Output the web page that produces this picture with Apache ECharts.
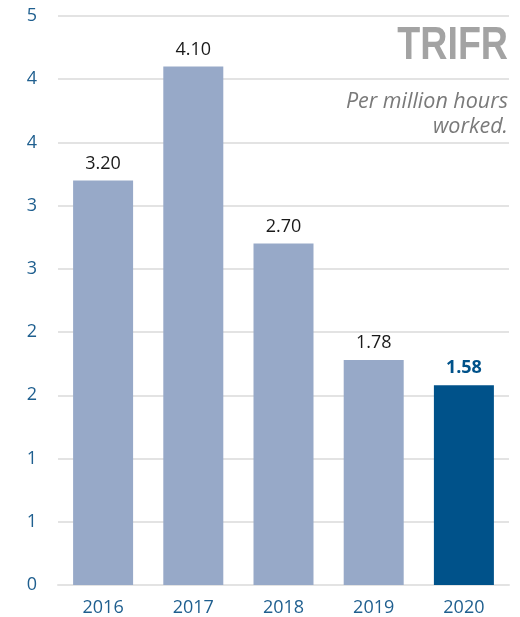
<!DOCTYPE html>
<html>
<head>
<meta charset="utf-8">
<script src="https://cdn.jsdelivr.net/npm/echarts@6/dist/echarts.min.js"></script>
<style>
html,body{margin:0;padding:0;background:#fff;}
#chart{width:520px;height:617px;}
</style>
</head>
<body>
<div id="chart"></div>
<script>
var categories = ['2016', '2017', '2018', '2019', '2020'];
var values = [3.20, 4.10, 2.70, 1.78, 1.58];
var valueLabels = ['3.20', '4.10', '2.70', '1.78', '1.58'];
var highlightIndex = 4;
var yTickValues = [0, 0.5, 1, 1.5, 2, 2.5, 3, 3.5, 4, 4.5];
var yTickLabels = ['0', '1', '1', '2', '2', '3', '3', '4', '4', '5'];
var titleText = 'TRIFR';
var subtitleText = 'Per million hours\nworked.';

var FONT = '"Open Sans", "Noto Sans", sans-serif';
var LIGHT = '#97a9c8';
var DARK = '#00528a';
var AXIS_BLUE = '#1f5f8f';

var chart = echarts.init(document.getElementById('chart'), null, {renderer: 'canvas'});

var barData = values.map(function (v, i) {
  var hi = i === highlightIndex;
  return {
    value: v,
    itemStyle: {color: hi ? DARK : LIGHT},
    label: {
      color: hi ? DARK : '#1a1a1a',
      fontWeight: hi ? 'bold' : 'normal'
    }
  };
});

chart.setOption({
  animation: false,
  graphic: [
    {
      type: 'text',
      x: 508,
      y: 46,
      scaleX: 0.8,
      style: {
        text: titleText,
        fontFamily: '"Liberation Sans", Arial, sans-serif',
        fontSize: 47,
        fontWeight: 'bold',
        fill: '#a3a3a3',
        textAlign: 'right',
        textVerticalAlign: 'middle'
      }
    },
    {
      type: 'text',
      x: 508,
      y: 114,
      style: {
        text: subtitleText,
        fontFamily: FONT,
        fontSize: 21.5,
        fontStyle: 'italic',
        fill: '#7a7a7a',
        lineHeight: 25,
        textAlign: 'right',
        textVerticalAlign: 'middle'
      }
    }
  ],
  grid: {left: 58, right: 11, top: 16, bottom: 31, containLabel: false},
  xAxis: {
    type: 'category',
    data: categories,
    axisLine: {show: true, lineStyle: {color: '#e3e3e3', width: 2}},
    axisTick: {show: false},
    axisLabel: {color: AXIS_BLUE, fontFamily: FONT, fontSize: 18, margin: 14}
  },
  yAxis: {
    type: 'value',
    min: 0,
    max: 4.5,
    interval: 0.5,
    axisLine: {show: false},
    axisTick: {show: false},
    splitLine: {lineStyle: {color: '#e3e3e3', width: 2}},
    axisLabel: {
      color: AXIS_BLUE, fontFamily: FONT, fontSize: 18, margin: 21,
      formatter: function (v) {
        var idx = yTickValues.indexOf(Math.round(v * 10) / 10);
        return idx >= 0 ? yTickLabels[idx] : '';
      }
    }
  },
  series: [{
    type: 'bar',
    data: barData,
    barWidth: 60,
    label: {
      show: true,
      position: 'top',
      distance: 8,
      fontFamily: FONT,
      fontSize: 18,
      formatter: function (p) { return valueLabels[p.dataIndex]; }
    }
  }]
});
</script>
</body>
</html>
